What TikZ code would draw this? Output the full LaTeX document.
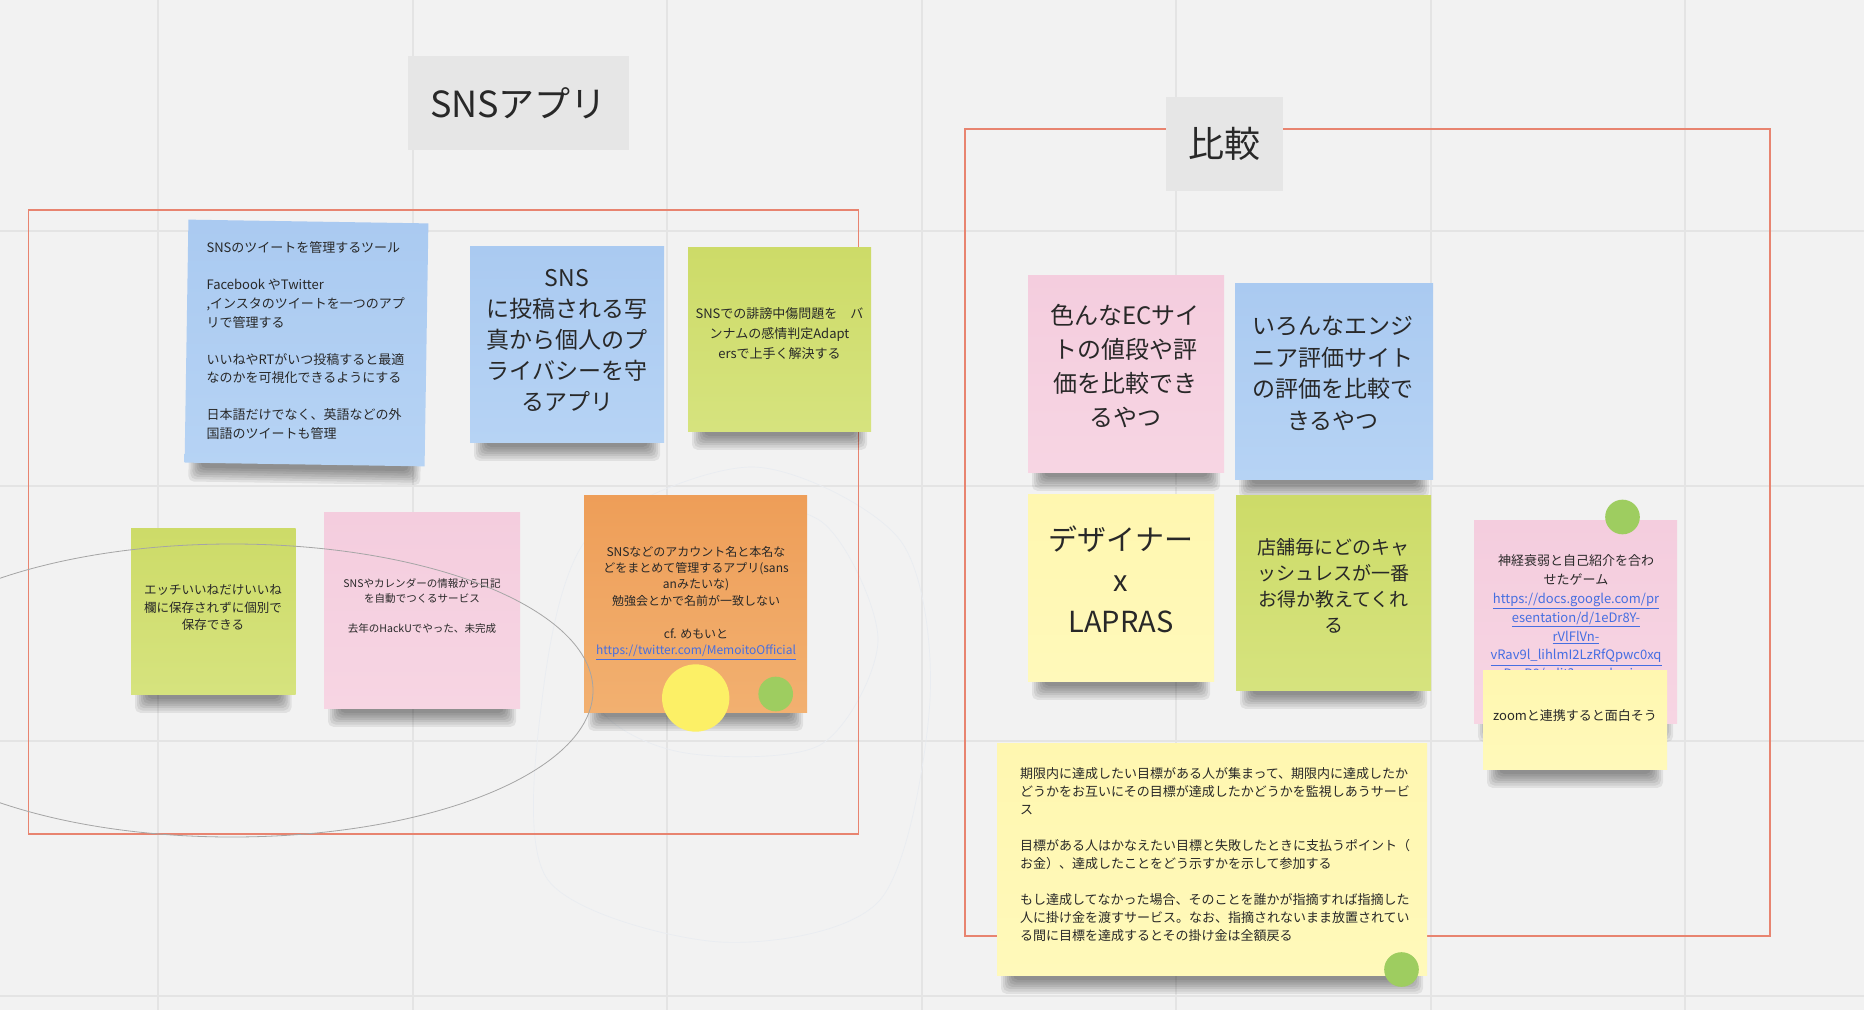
\documentclass[tikz,border=0pt]{standalone}
\usepackage{fontspec}
\setmainfont{Noto Sans CJK JP}
\definecolor{bg}{RGB}{242,242,242}
\definecolor{gridc}{RGB}{228,228,228}
\definecolor{framec}{RGB}{232,132,112}
\definecolor{titlebg}{RGB}{230,230,230}
\definecolor{bluetop}{RGB}{170,202,241}
\definecolor{bluebot}{RGB}{182,211,244}
\definecolor{greentop}{RGB}{205,219,104}
\definecolor{greenbot}{RGB}{214,227,126}
\definecolor{pinktop}{RGB}{244,205,222}
\definecolor{pinkbot}{RGB}{247,213,227}
\definecolor{orangetop}{RGB}{238,158,88}
\definecolor{orangebot}{RGB}{242,176,112}
\definecolor{yellowtop}{RGB}{255,247,176}
\definecolor{yellowbot}{RGB}{255,249,186}
\definecolor{txt}{RGB}{40,40,40}
\definecolor{linkc}{RGB}{70,110,225}
\definecolor{dotyellow}{RGB}{252,240,102}
\definecolor{dotgreen}{RGB}{158,205,96}
\definecolor{ellc}{RGB}{165,165,165}
\definecolor{faint}{RGB}{233,236,241}
\newcommand\fs[2]{\fontsize{#1pt}{#2pt}\selectfont}
\newcommand\nshadow[3]{\foreach \k in {0,...,6}{\fill[black,opacity=0.07,rounded corners=4pt] ({#1+16-2*\k},{#3-30}) rectangle ({#2-16+2*\k},{#3+5+2.3*\k});}}
\newcommand\stickynote[6]{\nshadow{#2}{#4}{#5}\path[top color=#6top,bottom color=#6bot] (#2,#3) rectangle (#4,#5); \coordinate (#1) at ({(#2+#4)/2},{(#3+#5)/2});}
\newcommand\lnk[1]{\textcolor{linkc}{\underline{#1}}}
\tikzset{
  tx/.style={text=txt, inner sep=0pt, outer sep=0pt},
  titlebox/.style={fill=titlebg, inner sep=0pt, text=txt, font=\fs{27}{30}},
  dot/.style={circle, inner sep=0pt, outer sep=0pt}
}
\begin{document}
\begin{tikzpicture}[x=0.75pt,y=-0.75pt]
\useasboundingbox (0,0) rectangle (1864,1010);
\clip (0,0) rectangle (1864,1010);
\fill[bg] (0,0) rectangle (1864,1010);
% grid
\foreach \gx in {158,412.5,667,921.5,1176,1430.5,1685}{\draw[gridc,line width=1.5pt] (\gx,0) -- (\gx,1010);}
\foreach \gy in {231,486,741,996}{\draw[gridc,line width=1.5pt] (0,\gy) -- (1864,\gy);}
% faint pen strokes
\draw[faint,line width=0.5pt] plot[smooth cycle] coordinates {(753,467) (590,535) (542,700) (548,880) (720,942) (880,900) (930,700) (900,540)};
\draw[faint,line width=0.5pt] plot[smooth cycle] coordinates {(700,505) (605,560) (595,700) (680,752) (820,745) (878,640) (822,522)};
% frames
\draw[framec,line width=1.1pt] (28.5,210) rectangle (858.5,834);
\draw[framec,line width=1.1pt] (965,129) rectangle (1770,936);
% titles
\node[titlebox,minimum width=165.75pt,minimum height=70.5pt] (ttlA) at (518.5,103) {SNSアプリ};
\node[titlebox,minimum width=87.75pt,minimum height=70.5pt] (ttlB) at (1224.5,144) {比較};
% note A (rotated)
\begin{scope}[rotate around={-0.9:(306.5,343)}]
\stickynote{nA}{186.5}{221.5}{426.5}{464.5}{blue}
\node[tx,font=\fs{9.75}{13.9},align=left,anchor=north west] (tA) at (205,243.5) {SNSのツイートを管理するツール\\[13.9pt]Facebook やTwitter\\,インスタのツイートを一つのアプ\\リで管理する\\[13.9pt]いいねやRTがいつ投稿すると最適\\なのかを可視化できるようにする\\[13.9pt]日本語だけでなく、英語などの外\\国語のツイートも管理};
\end{scope}
% note B
\stickynote{nB}{470}{246}{664}{442}{blue}
\node[tx,font=\fs{17.25}{23.25},align=center,anchor=north] (tB) at (567,269) {SNS\\に投稿される写\\真から個人のプ\\ライバシーを守\\るアプリ};
% note C
\stickynote{nC}{688}{247}{871}{431}{green}
\node[tx,font=\fs{9.75}{15},align=center,anchor=north] (tC) at (779.5,308) {SNSでの誹謗中傷問題を　バ\\ンナムの感情判定Adapt\\ersで上手く解決する};
% note D
\stickynote{nD}{131}{528}{295.5}{694}{green}
\node[tx,font=\fs{9.4}{13.1},align=center,anchor=north] (tD) at (213,585) {エッチいいねだけいいね\\欄に保存されずに個別で\\保存できる};
% note E
\stickynote{nE}{324}{512}{520}{708}{pink}
\node[tx,font=\fs{7.9}{11.25},align=center,anchor=north] (tE) at (422,579) {SNSやカレンダーの情報から日記\\を自動でつくるサービス\\[11.25pt]去年のHackUでやった、未完成};
% note F
\stickynote{nF}{584}{495}{807}{712}{orange}
\node[tx,font=\fs{9}{12.3},align=center,anchor=north] (tF) at (696,546) {SNSなどのアカウント名と本名な\\どをまとめて管理するアプリ(sans\\anみたいな)\\勉強会とかで名前が一致しない\\[12.3pt]cf. めもいと\\\lnk{https://twitter.com/MemoitoOfficial}};
\node[dot,fill=dotyellow,minimum size=50.5pt] (dotF1) at (695.7,698) {};
\node[dot,fill=dotgreen,minimum size=26pt] (dotF2) at (775.7,694) {};
% note G
\stickynote{nG}{1028}{275}{1224}{472}{pink}
\node[tx,font=\fs{18}{25.5},align=center,anchor=north] (tG) at (1125,304) {色んなECサイ\\トの値段や評\\価を比較でき\\るやつ};
% note H
\stickynote{nH}{1235}{283}{1433}{479}{blue}
\node[tx,font=\fs{17.25}{23.6},align=center,anchor=north] (tH) at (1333,316.5) {いろんなエンジ\\ニア評価サイト\\の評価を比較で\\きるやつ};
% note I
\stickynote{nI}{1028}{494}{1214}{681}{yellow}
\node[tx,font=\fs{21.75}{30.75},align=center,anchor=north] (tI) at (1121,525.5) {デザイナー\\x\\LAPRAS};
% note J
\stickynote{nJ}{1236}{495}{1431}{690}{green}
\node[tx,font=\fs{14.25}{19.5},align=center,anchor=north] (tJ) at (1333.5,538.5) {店舗毎にどのキャ\\ッシュレスが一番\\お得か教えてくれ\\る};
% note K
\stickynote{nK}{1474}{520}{1677}{723}{pink}
\node[tx,font=\fs{9.75}{14.1},align=center,anchor=north] (tK) at (1576,555) {神経衰弱と自己紹介を合わ\\せたゲーム\\\lnk{https://docs.google.com/pr}\\\lnk{esentation/d/1eDr8Y-}\\\lnk{rVlFlVn-}\\\lnk{vRav9l\_lihlmI2LzRfQpwc0xq}\\\lnk{DmP8/edit?usp=sharing}};
\node[dot,fill=dotgreen,minimum size=26pt] (dotK) at (1622.5,517) {};
% note L
\stickynote{nL}{1483}{670}{1667}{769}{yellow}
\node[tx,font=\fs{9.75}{13},align=center,anchor=north] (tL) at (1575,710) {zoomと連携すると面白そう};
% note M
\stickynote{nM}{997}{743}{1427}{975}{yellow}
\node[tx,font=\fs{9.75}{13.5},align=left,anchor=north west] (tM) at (1020,767) {期限内に達成したい目標がある人が集まって、期限内に達成したか\\どうかをお互いにその目標が達成したかどうかを監視しあうサービ\\ス\\[13.5pt]目標がある人はかなえたい目標と失敗したときに支払うポイント（\\お金）、達成したことをどう示すかを示して参加する\\[13.5pt]もし達成してなかった場合、そのことを誰かが指摘すれば指摘した\\人に掛け金を渡すサービス。なお、指摘されないまま放置されてい\\る間に目標を達成するとその掛け金は全額戻る};
\node[dot,fill=dotgreen,minimum size=26pt] (dotM) at (1401.5,969.5) {};
% ellipse stroke
\draw[ellc,line width=0.6pt] (232,690.5) ellipse [x radius=361, y radius=146.5];
\end{tikzpicture}
\end{document}
